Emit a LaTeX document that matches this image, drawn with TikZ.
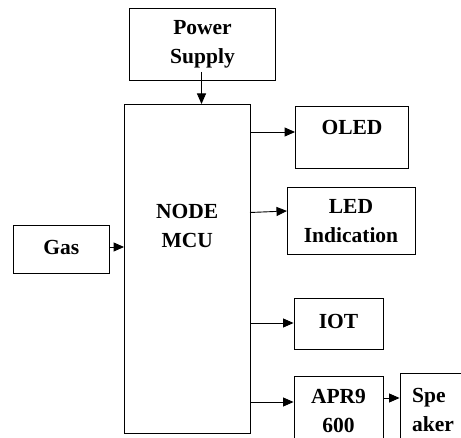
\documentclass[tikz,border=0pt]{standalone}
\usepackage{fontspec}
\setmainfont{Liberation Serif}
\usetikzlibrary{arrows.meta}
\begin{document}
\begin{tikzpicture}[x=1pt,y=-1pt,
  box/.style={draw,line width=0.9pt,rectangle,inner sep=0pt,align=center,
    font=\fontsize{21.5}{29}\selectfont\bfseries},
  lbl/.style={inner sep=0pt,align=center,font=\fontsize{21.5}{29}\selectfont\bfseries},
  arr/.style={line width=0.9pt,-{Triangle[length=10.5pt,width=9pt]}}]
\useasboundingbox (0,0) rectangle (461,438);
\clip (0,0) rectangle (461,438);
\fill[white] (0,0) rectangle (461,438);
\node[box,minimum width=146pt,minimum height=72.5pt] (power) at (202.5,44.25) {Power\\Supply};
\node[box,minimum width=125.5pt,minimum height=329.5pt] (mcu) at (187.25,268.75) {};
\node[lbl] (mcut) at (187.25,225.5) {NODE\\MCU};
\node[box,minimum width=113pt,minimum height=62.5pt] (oled) at (352,137.25) {};
\node[lbl] (oledt) at (352,127.5) {OLED};
\node[box,minimum width=128pt,minimum height=66.5pt] (led) at (351,220.75) {LED\\Indication};
\node[box,minimum width=96.5pt,minimum height=48pt] (gas) at (61.25,249) {};
\node[lbl] (gast) at (61.25,247.5) {Gas};
\node[box,minimum width=89pt,minimum height=51pt] (iot) at (338.5,323.5) {};
\node[lbl] (iott) at (338.5,321) {IOT};
\node[box,minimum width=89pt,minimum height=74pt] (apr) at (338.5,413) {};
\node[lbl] (aprt) at (338.5,410.5) {APR9\\600};
\node[box,minimum width=75pt,minimum height=77pt] (spk) at (437.5,411.5) {};
\node[lbl,align=left,anchor=west] (spkt) at (412,409.5) {Spe\\aker};
\coordinate (p1) at (201.5,72);
\coordinate (m1) at (201.5,104);
\draw[arr] (p1) -- (m1);
\draw[arr] (mcu.east |- 0,132) -- (oled.west |- 0,132);
\coordinate (l1) at (250,212.5);
\coordinate (l2) at (287,211);
\draw[arr] (l1) -- (l2);
\draw[arr] (gas.east |- 0,247) -- (mcu.west |- 0,247);
\draw[arr] (mcu.east |- 0,323) -- (iot.west |- 0,323);
\draw[arr] (mcu.east |- 0,402) -- (apr.west |- 0,402);
\draw[arr] (apr.east |- 0,398) -- (spk.west |- 0,398);
\end{tikzpicture}
\end{document}
